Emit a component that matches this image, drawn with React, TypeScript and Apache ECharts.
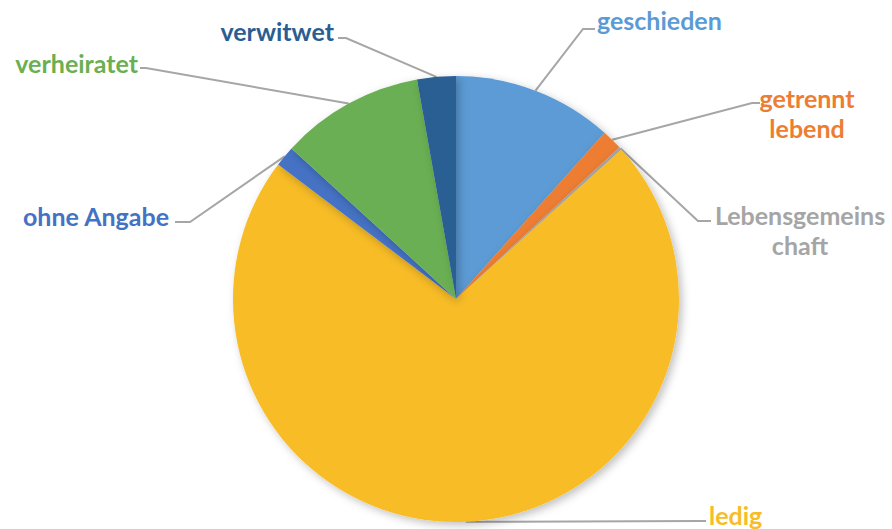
import React, { useEffect, useRef } from "react";
import * as echarts from "echarts";

const categories = [
  "geschieden",
  "getrennt lebend",
  "Lebensgemeinschaft",
  "ledig",
  "ohne Angabe",
  "verheiratet",
  "verwitwet",
];
const labelTexts = [
  "geschieden",
  "getrennt\nlebend",
  "Lebensgemeins\nchaft",
  "ledig",
  "ohne Angabe",
  "verheiratet",
  "verwitwet",
];
const values = [11.6, 1.5, 0.2, 72.0, 1.5, 10.4, 2.8];
const colors = ["#5B9BD5", "#ED7D31", "#A5A5A5", "#F7BC26", "#4472C4", "#6AAF52", "#2A5E93"];

// label anchor [x, y, align], and leader bend point / end point
const labelPlaces: [number, number, string][] = [
  [597, 20, "left"],
  [807, 113, "center"],
  [800, 230, "center"],
  [709, 515, "left"],
  [169, 216, "right"],
  [138, 63, "right"],
  [334, 31, "right"],
];
const leaderBends: [number, number][][] = [
  [[583, 29], [595, 29]],
  [[752, 103], [760, 103]],
  [[698, 221], [711, 221]],
  [[700, 521], [706, 521]],
  [[190, 222], [175, 222]],
  [[146, 68], [140, 68]],
  [[346, 38], [338, 38]],
];

export default function App() {
  const ref = useRef<HTMLDivElement>(null);
  useEffect(() => {
    if (!ref.current) return;
    const chart = echarts.init(ref.current, undefined, { renderer: "svg" });
    chart.setOption({
      animation: false,
      backgroundColor: "#ffffff",
      series: [
        {
          type: "pie",
          center: [456, 299],
          radius: 223,
          startAngle: 90,
          clockwise: true,
          avoidLabelOverlap: false,
          minAngle: 0,
          data: categories.map((n, i) => ({
            name: n,
            value: values[i],
            itemStyle: { color: colors[i] },
            label: { color: colors[i] },
          })),
          itemStyle: {
            borderWidth: 0,
            shadowBlur: 8,
            shadowColor: "rgba(0,0,0,0.25)",
            shadowOffsetX: 3,
            shadowOffsetY: 3,
          },
          label: {
            show: true,
            position: "outside",
            formatter: (p: any) => labelTexts[p.dataIndex],
            fontFamily: "Lato",
            fontWeight: "bold",
            fontSize: 25,
            lineHeight: 30,
          },
          labelLine: {
            show: true,
            length: 20,
            length2: 10,
            smooth: false,
            lineStyle: { color: "#A6A6A6", width: 2 },
          },
          labelLayout: (params: any) => {
            const i = params.dataIndex;
            const pl = labelPlaces[i];
            const edge = params.labelLinePoints ? params.labelLinePoints[0] : null;
            const res: any = {
              x: pl[0],
              y: pl[1],
              align: pl[2],
              verticalAlign: "middle",
            };
            if (edge) {
              res.labelLinePoints = [edge, leaderBends[i][0], leaderBends[i][1]];
            }
            return res;
          },
        },
      ],
    });
    return () => chart.dispose();
  }, []);
  return (
    <div
      ref={ref}
      style={{ position: "fixed", left: 0, top: 0, width: 892, height: 529 }}
    />
  );
}
